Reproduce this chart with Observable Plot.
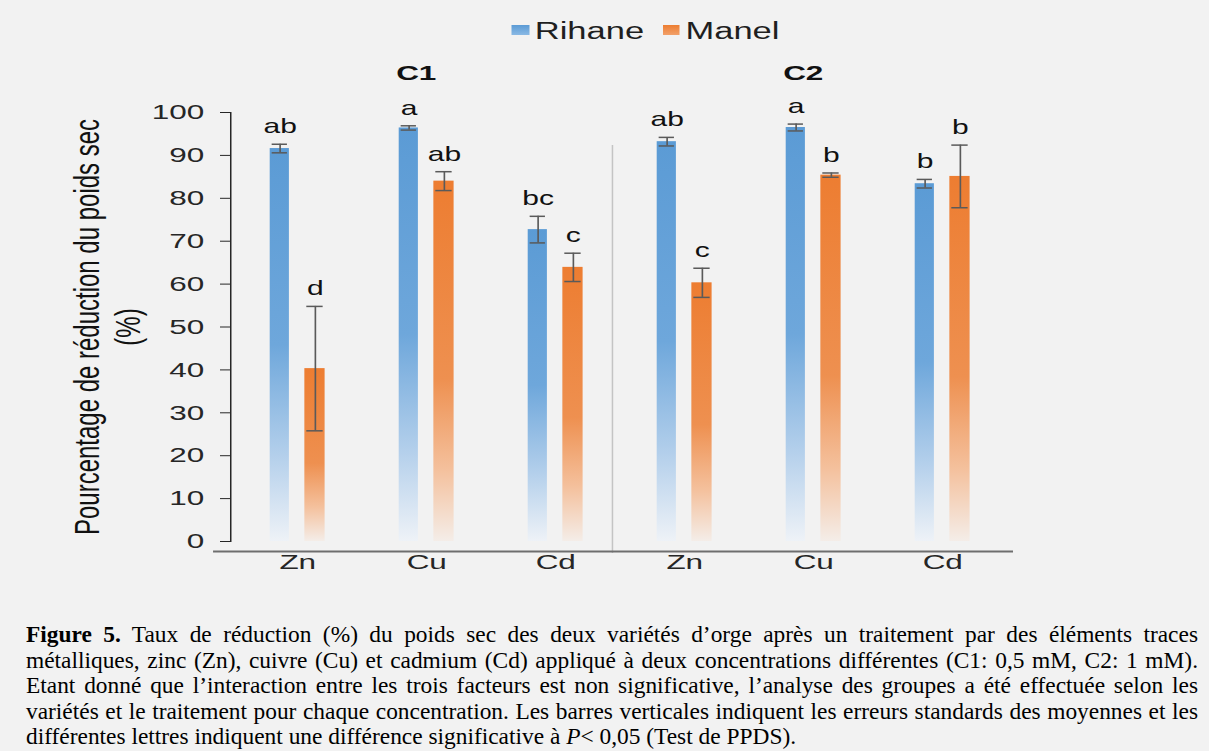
<!DOCTYPE html>
<html><head><meta charset="utf-8">
<script src="https://cdn.jsdelivr.net/npm/d3@7"></script>
<script src="https://cdn.jsdelivr.net/npm/@observablehq/plot@0.6"></script>
<style>
html,body{margin:0;padding:0;background:#f2f2f2;}
body{width:1209px;height:751px;overflow:hidden;position:relative;}
#chartwrap{position:absolute;left:0;top:0;width:806px;transform:scaleX(1.5);transform-origin:0 0;font-family:"Liberation Sans",Arial,sans-serif;color:#1f1f1f;}
#legend{height:50px;position:relative;font-size:23px;line-height:23px;}
#legend .sw{position:absolute;top:25px;width:11.7px;height:10px;}
#legend .tx{position:absolute;top:20px;white-space:nowrap;}
#caption{position:absolute;left:26px;top:622px;width:1172px;font-family:"Liberation Serif","Times New Roman",serif;font-size:23.4px;line-height:25.5px;color:#000;}
#caption .ln{text-align:justify;text-align-last:justify;}
</style></head>
<body>
<div id="chartwrap">
  <div id="legend"></div>
  <div id="plot"></div>
</div>
<div id="caption">
<div class="ln"><b>Figure 5.</b> Taux de réduction (%) du poids sec des deux variétés d’orge après un traitement par des éléments traces</div>
<div class="ln">métalliques, zinc (Zn), cuivre (Cu) et cadmium (Cd) appliqué à deux concentrations différentes (C1: 0,5 mM, C2: 1 mM).</div>
<div class="ln">Etant donné que l’interaction entre les trois facteurs est non significative, l’analyse des groupes a été effectuée selon les</div>
<div class="ln">variétés et le traitement pour chaque concentration. Les barres verticales indiquent les erreurs standards des moyennes et les</div>
<div class="last">différentes lettres indiquent une différence significative à <i>P</i>&lt; 0,05 (Test de PPDS).</div>
</div>
<script>
// ---- data ----
const concentrations = ["C1", "C2"];
const metals = ["Zn", "Cu", "Cd"];
const varieties = ["Rihane", "Manel"];
const varietyColors = ["#5b9bd5", "#ed7d31"];
// order: C1-Zn, C1-Cu, C1-Cd, C2-Zn, C2-Cu, C2-Cd
const rihaneMean = [91.6, 96.4, 72.7, 93.2, 96.5, 83.4];
const rihaneSE = [1.0, 0.5, 3.1, 1.0, 0.8, 1.0];
const rihaneLetters = ["ab", "a", "bc", "ab", "a", "b"];
const manelMean = [40.3, 84.0, 63.9, 60.3, 85.4, 85.1];
const manelSE = [14.5, 2.2, 3.3, 3.4, 0.5, 7.3];
const manelLetters = ["d", "ab", "c", "c", "b", "b"];
const yTicks = [0, 10, 20, 30, 40, 50, 60, 70, 80, 90, 100];
const yTitle = "Pourcentage de réduction du poids sec";
const yTitleUnit = "(%)";

// ---- table ----
const keys = [];
const rows = [];
concentrations.forEach((c, ci) => metals.forEach((m, mi) => {
  const i = ci * 3 + mi;
  const key = c + "-" + m;
  keys.push(key);
  rows.push({key, conc: c, metal: m,
    r: rihaneMean[i], rse: rihaneSE[i], rl: rihaneLetters[i],
    m: manelMean[i], mse: manelSE[i], ml: manelLetters[i]});
}));

// ---- legend ----
const legend = document.getElementById("legend");
const legPos = [[341, 356.5], [441.8, 457]];
varieties.forEach((v, i) => {
  const sw = document.createElement("div");
  sw.className = "sw";
  sw.style.left = legPos[i][0] + "px";
  sw.style.background = `linear-gradient(${varietyColors[i]}, ${i ? "#f2a06a" : "#8ab9e4"})`;
  legend.appendChild(sw);
  const tx = document.createElement("div");
  tx.className = "tx";
  tx.style.left = legPos[i][1] + "px";
  tx.textContent = v;
  legend.appendChild(tx);
});

// ---- plot ----
const rInL = 24.8, rInR = 48.4, mInL = 47.9, mInR = 24.6;
const rDx = -11.75, mDx = 11.75;
const errColor = "#5a5a5a";

const plot = Plot.plot({
  width: 806,
  height: 550,
  marginTop: 62,
  marginBottom: 59,
  marginLeft: 153.33,
  marginRight: 132.67,
  style: {background: "transparent", fontSize: "21px", fontFamily: "Liberation Sans, Arial, sans-serif", color: "#262626"},
  x: {domain: keys, padding: 0, tickSize: 0, tickPadding: 13, tickFormat: k => k.split("-")[1], label: null},
  y: {domain: [0, 100], ticks: yTicks, tickSize: 6.67, tickPadding: 11, line: true, label: null},
  marks: [
    Plot.ruleX(["C2-Zn"], {x: d => d, dx: -48.2, stroke: "#c4c4c4", strokeWidth: 1, insetTop: 33, insetBottom: -12}),
    Plot.barY(rows, {x: "key", y: "r", fill: "url(#gRihane)", insetLeft: rInL, insetRight: rInR}),
    Plot.barY(rows, {x: "key", y: "m", fill: "url(#gManel)", insetLeft: mInL, insetRight: mInR}),
    // error bars Rihane
    Plot.ruleX(rows, {x: "key", y1: d => d.r - d.rse, y2: d => d.r + d.rse, dx: rDx, stroke: errColor, strokeWidth: 1.1}),
    Plot.tickY(rows, {x: "key", y: d => d.r - d.rse, insetLeft: rInL + 1.3, insetRight: rInR + 1.3, stroke: errColor, strokeWidth: 1.5}),
    Plot.tickY(rows, {x: "key", y: d => d.r + d.rse, insetLeft: rInL + 1.3, insetRight: rInR + 1.3, stroke: errColor, strokeWidth: 1.5}),
    // error bars Manel
    Plot.ruleX(rows, {x: "key", y1: d => d.m - d.mse, y2: d => d.m + d.mse, dx: mDx, stroke: errColor, strokeWidth: 1.1}),
    Plot.tickY(rows, {x: "key", y: d => d.m - d.mse, insetLeft: mInL + 1.3, insetRight: mInR + 1.3, stroke: errColor, strokeWidth: 1.5}),
    Plot.tickY(rows, {x: "key", y: d => d.m + d.mse, insetLeft: mInL + 1.3, insetRight: mInR + 1.3, stroke: errColor, strokeWidth: 1.5}),
    // letters
    Plot.text(rows, {x: "key", y: d => d.r + d.rse, text: "rl", dx: rDx, dy: -11, lineAnchor: "bottom", fontSize: 20, fill: "#111"}),
    Plot.text(rows, {x: "key", y: d => d.m + d.mse, text: "ml", dx: mDx, dy: -11, lineAnchor: "bottom", fontSize: 20, fill: "#111"}),
    // concentration headings
    Plot.text(concentrations, {x: c => c + "-Cu", text: d => d, frameAnchor: "top", lineAnchor: "middle", dy: -39, dx: -7, fontWeight: "bold", fontSize: 21, fill: "#111"}),
    // baseline
    Plot.ruleY([0], {dy: 10, insetLeft: -11.3, insetRight: -2, stroke: "#6e6e6e", strokeWidth: 2}),
    // y title
    Plot.text([yTitle], {text: d => d, frameAnchor: "left", textAnchor: "middle", lineAnchor: "middle", rotate: -90, dx: -95.5, fontSize: 24, fill: "#111"}),
    Plot.text([yTitleUnit], {text: d => d, frameAnchor: "left", textAnchor: "middle", lineAnchor: "middle", rotate: -90, dx: -68, fontSize: 24, fill: "#111"})
  ]
});

// gradients for the bar fills
const defs = d3.select(plot).insert("defs", ":first-child");
const gradStops = [
  ["gRihane", [[0, "#5b9bd5"], [0.5, "#6ea7db"], [0.78, "#b3cfeb"], [1, "#eef2f7"]]],
  ["gManel", [[0, "#ed7d31"], [0.55, "#ee9050"], [0.8, "#f4c09c"], [1, "#f4ede8"]]]
];
gradStops.forEach(([id, stops]) => {
  const g = defs.append("linearGradient").attr("id", id).attr("x1", 0).attr("y1", 0).attr("x2", 0).attr("y2", 1);
  stops.forEach(([o, c]) => g.append("stop").attr("offset", o).attr("stop-color", c));
});

document.getElementById("plot").appendChild(plot);
</script>
</body></html>
